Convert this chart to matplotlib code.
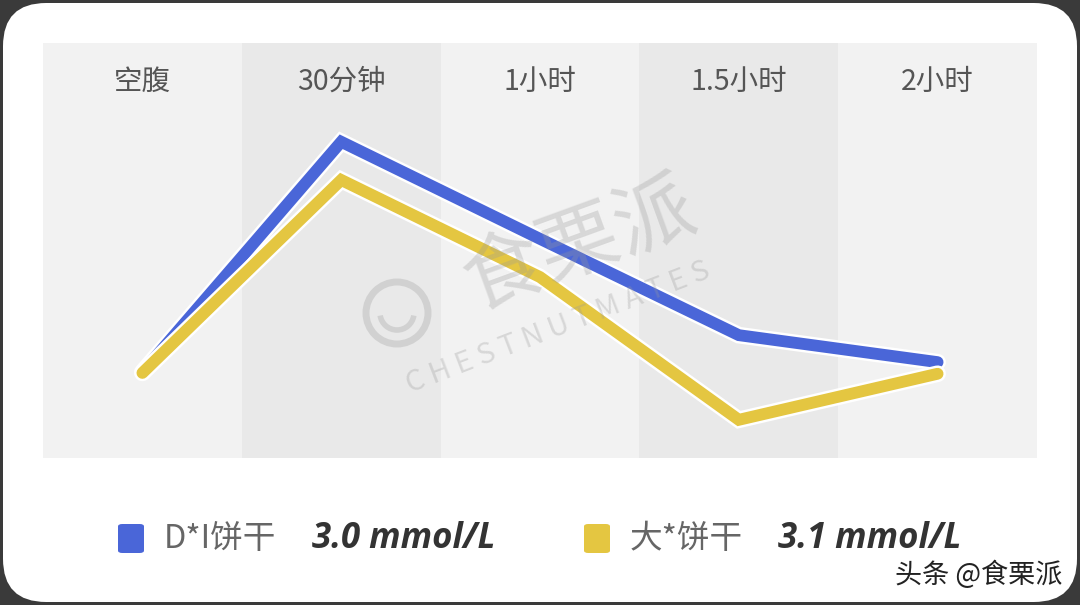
import matplotlib
matplotlib.use("Agg")
import matplotlib.pyplot as plt
import matplotlib.patheffects as pe
from matplotlib.patches import FancyBboxPatch, Ellipse, Arc

plt.rcParams['font.family'] = ['Noto Sans CJK SC', 'DejaVu Sans']

# 时间点
labels = ["空腹", "30分钟", "1小时", "1.5小时", "2小时"]
# 读图估计的相对血糖值
blue_vals = [2.07, 7.62, 5.28, 2.96, 2.31]
yellow_vals = [2.05, 6.70, 4.36, 0.92, 2.03]
blue_name = "D*I饼干"
yellow_name = "大*饼干"
blue_note = "3.0 mmol/L"
yellow_note = "3.1 mmol/L"

BLUE = "#4a66d8"
YELLOW = "#e4c641"
WM = "#9a9a9a"

fig = plt.figure(figsize=(10.8, 6.05), dpi=100)
fig.patch.set_facecolor("#3a3a3a")

# white rounded card
card = FancyBboxPatch((3 / 1080, 3 / 605), 1 - 6 / 1080, 1 - 6 / 605,
                      boxstyle="round,pad=0,rounding_size=0.04",
                      transform=fig.transFigure, facecolor="white",
                      edgecolor="none", mutation_aspect=1080 / 605,
                      zorder=-5)
fig.patches.append(card)

ax = fig.add_axes([43 / 1080, (605 - 458) / 605, 994 / 1080, 415 / 605])
ax.set_xlim(-0.5, 4.5)
ax.set_ylim(0, 10)
ax.axis("off")

for i, lab in enumerate(labels):
    c = "#e9e9e9" if i % 2 else "#f2f2f2"
    ax.axvspan(i - 0.5, i + 0.5, color=c, lw=0, zorder=0)
    ax.text(i, 0.906, lab, transform=ax.get_xaxis_transform(),
            ha="center", va="center", fontsize=20.5, color="#555555")

x = list(range(len(labels)))
white = [pe.Stroke(linewidth=12, foreground="white"), pe.Normal()]
ax.plot(x, blue_vals, color=BLUE, lw=8.5, solid_capstyle="round",
        solid_joinstyle="miter", path_effects=white, zorder=3)
ax.plot(x, yellow_vals, color=YELLOW, lw=8.5, solid_capstyle="round",
        solid_joinstyle="miter", path_effects=white, zorder=4)

# watermark over the lines
ax.text((580 - 43) / 994, (458 - 245) / 415, "食栗派", transform=ax.transAxes,
        rotation=20, ha="center", va="center", fontsize=58, color=WM,
        alpha=0.3, zorder=6, fontweight="light")
ax.text((558 - 43) / 994, (458 - 328) / 415, "C H E S T N U T M A T E S",
        transform=ax.transAxes, rotation=21, ha="center", va="center",
        fontsize=21, color=WM, alpha=0.3, zorder=6)
logo = ((397 - 43) / 994, (458 - 313) / 415)
ax.add_patch(Ellipse(logo, 62 / 994, 62 / 415, transform=ax.transAxes,
                     fill=False, ec=WM, lw=5, alpha=0.3, zorder=6))
ax.add_patch(Arc(logo, 34 / 994, 34 / 415, theta1=200, theta2=340,
                 transform=ax.transAxes, ec=WM, lw=4, alpha=0.3, zorder=6))

# legend
for x0, col, name, note, nx in [(118, BLUE, blue_name, blue_note, 312),
                                (584, YELLOW, yellow_name, yellow_note, 778)]:
    sq = FancyBboxPatch((x0 / 1080, (605 - 553) / 605), 26 / 1080, 29 / 605,
                        boxstyle="round,pad=0,rounding_size=0.004",
                        transform=fig.transFigure, facecolor=col,
                        edgecolor="none")
    fig.patches.append(sq)
    fig.text((x0 + 46) / 1080, 1 - 539 / 605, name, ha="left", va="center",
             fontsize=23.5, color="#666666")
    fig.text(nx / 1080, 1 - 539 / 605, note, ha="left", va="center",
             fontsize=25, color="#333333", fontweight="bold", style="italic",
             family=["Open Sans", "DejaVu Sans"])

fig.text(1062 / 1080, 1 - 575 / 605, "头条 @食栗派", ha="right", va="center",
         fontsize=19.5, color="#222222")

fig.savefig("out.png", dpi=100, facecolor=fig.get_facecolor())
